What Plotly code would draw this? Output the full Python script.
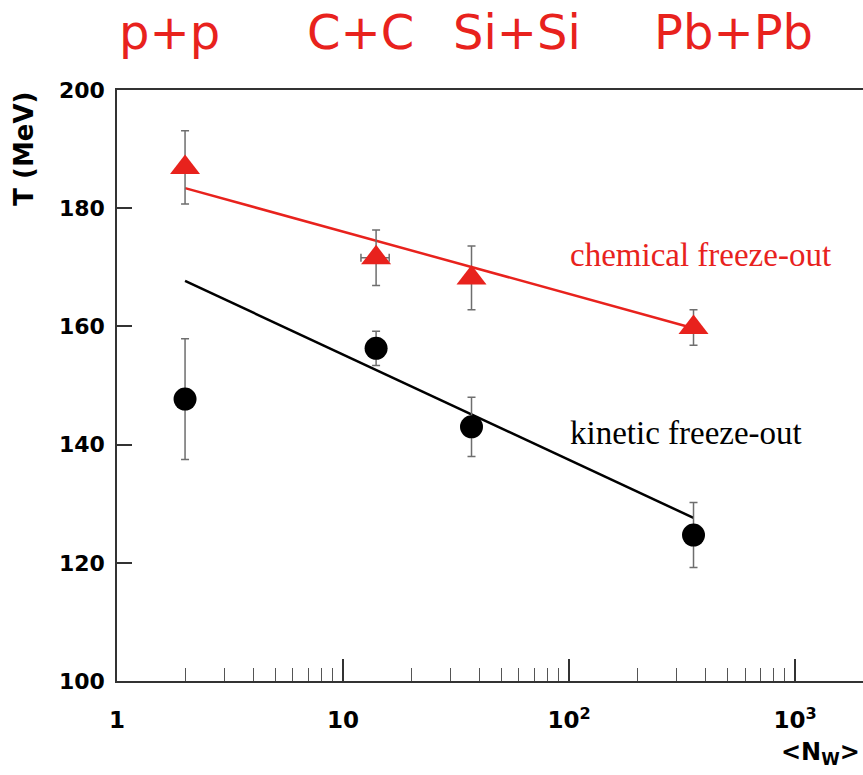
import numpy as np
import plotly.graph_objects as go

# ---- data ----
systems = ["p+p", "C+C", "Si+Si", "Pb+Pb"]
n_wounded = [2, 14, 37, 355]
n_wounded_err = [0, 2, 0, 0]

t_chem = [186.9, 171.6, 168.2, 159.8]
t_chem_err = [6.2, 4.7, 5.4, 3.0]

t_kin = [147.7, 156.3, 143.0, 124.7]
t_kin_err = [10.2, 2.9, 5.0, 5.5]

fit_x = [2, 355]
chem_fit = [183.4, 159.7]
kin_fit = [167.7, 127.6]

x_major = [1, 10, 100, 1000]
x_major_text = ["1", "10", "10<sup>2</sup>", "10<sup>3</sup>"]
x_minor = [2, 3, 4, 5, 6, 7, 8, 9, 20, 30, 40, 50, 60, 70, 80, 90,
           200, 300, 400, 500, 600, 700, 800, 900]
y_ticks = [100, 120, 140, 160, 180, 200]

RED = "#e8221d"
GREY = "#6e6e6e"

fig = go.Figure()

# fit lines
fig.add_trace(go.Scatter(x=fit_x, y=chem_fit, mode="lines",
                         line=dict(color=RED, width=2.5), hoverinfo="skip"))
fig.add_trace(go.Scatter(x=fit_x, y=kin_fit, mode="lines",
                         line=dict(color="black", width=2.5), hoverinfo="skip"))

# chemical freeze-out points
fig.add_trace(go.Scatter(
    x=n_wounded, y=t_chem, mode="markers",
    marker=dict(symbol="triangle-up", size=26, color=RED, line=dict(width=0)),
    error_y=dict(type="data", array=t_chem_err, color=GREY, thickness=1.5, width=4),
    error_x=dict(type="data", array=n_wounded_err, color=GREY, thickness=1.5, width=4),
))

# kinetic freeze-out points
fig.add_trace(go.Scatter(
    x=n_wounded, y=t_kin, mode="markers",
    marker=dict(symbol="circle", size=23, color="black", line=dict(width=0)),
    error_y=dict(type="data", array=t_kin_err, color=GREY, thickness=1.5, width=4),
))

# system labels on top
label_px = [0.071, 0.327, 0.536, 0.826]
for name, px in zip(systems, label_px):
    fig.add_annotation(x=px, y=1.098, xref="paper", yref="paper",
                       text=name, showarrow=False, xanchor="center", yanchor="middle",
                       font=dict(family="DejaVu Sans", size=48, color=RED))

fig.add_annotation(x=np.log10(99), y=172.1, xref="x", yref="y",
                   text="chemical freeze-out", showarrow=False,
                   xanchor="left", yanchor="middle",
                   font=dict(family="Liberation Serif", size=33, color=RED))
fig.add_annotation(x=np.log10(99), y=142.0, xref="x", yref="y",
                   text="kinetic freeze-out", showarrow=False,
                   xanchor="left", yanchor="middle",
                   font=dict(family="Liberation Serif", size=33, color="black"))

# axis titles
fig.add_annotation(x=-0.125, y=1.0, xref="paper", yref="paper",
                   text="T (MeV)", showarrow=False, textangle=-90,
                   xanchor="center", yanchor="top",
                   font=dict(family="DejaVu Sans", size=26, color="black", weight="bold"))
fig.add_annotation(x=0.999, y=-0.122, xref="paper", yref="paper",
                   text="&lt;N<sub>W</sub>&gt;", showarrow=False,
                   xanchor="right", yanchor="middle",
                   font=dict(family="DejaVu Sans", size=24, color="black", weight="bold"))

fig.update_xaxes(
    type="log", range=[0, 3.30],
    tickvals=x_major, ticktext=x_major_text,
    ticks="inside", ticklen=22, tickwidth=1.5, tickcolor="#333",
    minor=dict(tickvals=x_minor, ticks="inside", ticklen=13, tickwidth=1.2, tickcolor="#555"),
    showline=True, linecolor="#333", linewidth=1.5, mirror=True,
    showgrid=False, zeroline=False,
    tickfont=dict(family="DejaVu Sans", size=23, color="black", weight="bold"),
    ticklabelstandoff=18,
)
fig.update_yaxes(
    range=[100, 200], tickvals=y_ticks,
    ticks="inside", ticklen=15, tickwidth=1.5, tickcolor="#333",
    showline=True, linecolor="#333", linewidth=1.5, mirror=False,
    showgrid=False, zeroline=False,
    tickfont=dict(family="DejaVu Sans", size=22, color="black", weight="bold"),
    ticklabelstandoff=6,
)

fig.update_layout(
    width=863, height=775,
    margin=dict(l=117, r=0, t=90, b=94),
    paper_bgcolor="white", plot_bgcolor="white",
    showlegend=False,
)

fig.write_html("out.html")
